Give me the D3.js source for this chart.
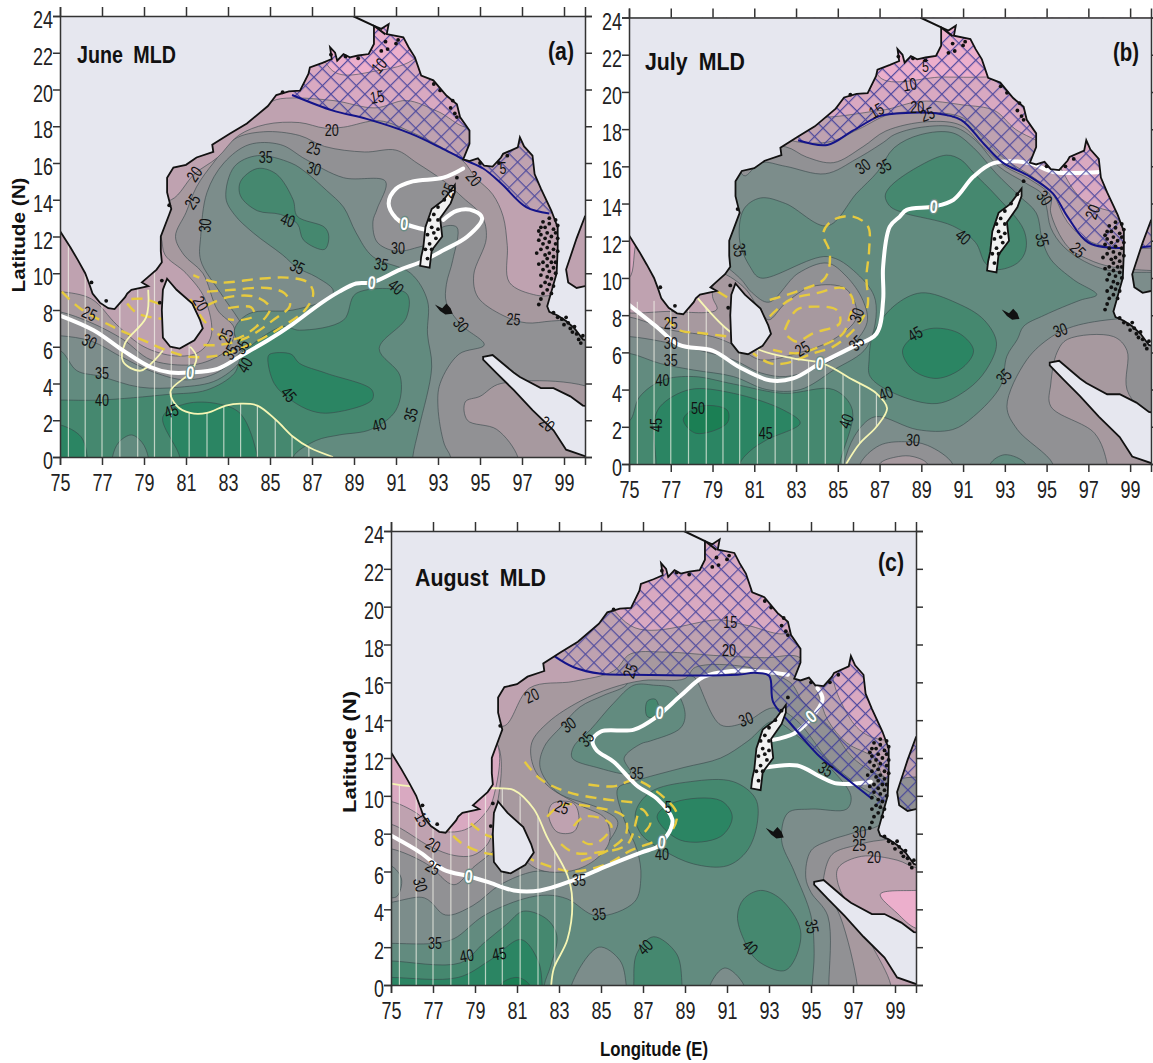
<!DOCTYPE html>
<html>
<head>
<meta charset="utf-8">
<script src="https://cdn.jsdelivr.net/npm/d3@7"></script>
<style>
body { margin: 0; background: #fff; }
svg { display: block; }
text { font-family: "Liberation Sans", sans-serif; }
</style>
</head>
<body>
<svg width="1153" height="1063"></svg>
<script>
// tick labels
var lonTicks = [75,77,79,81,83,85,87,89,91,93,95,97,99];
var latTicks = [0,2,4,6,8,10,12,14,16,18,20,22,24];

// colour of each MLD band, keyed on the lower bound (m)
var bandColors = {0:"#ecafcc",10:"#d9a9c1",15:"#bfa2b0",20:"#a7999f",25:"#919194",30:"#7c8d8b",35:"#628b7f",40:"#45886f",45:"#2b8563",50:"#1b7f54"};

// land outlines, lon/lat
var mainLand = [[74,12.6],[75,12.3],[75.5,11.4],[75.86,10.7],[76.2,10],[76.4,9.4],[76.55,8.9],[76.9,8.4],[77.3,8.1],[77.6,8.05],[78.1,8.7],[78.2,8.9],[78.4,9.1],[79,9.25],[79.2,9.3],[78.9,9.5],[79.2,9.8],[79.6,10.2],[79.85,10.6],[79.8,11.2],[79.8,12],[80.2,13.2],[80.3,13.5],[80.1,14.4],[80.1,15.2],[80.4,15.75],[81,15.9],[81.5,16.3],[82.3,16.6],[82.25,17],[83.1,17.6],[83.9,18.15],[84.9,19.1],[85.3,19.7],[85.9,19.9],[86.43,19.94],[86.83,20.85],[86.9,21.2],[87.5,21.45],[87.94,21.66],[87.86,22.3],[88.1,22],[88.2,21.57],[88.5,21.93],[88.8,21.75],[89.2,21.85],[89.7,21.93],[89.95,22.48],[89.95,23.47],[90.3,23.3],[90.65,23.56],[90.56,23.02],[91.35,22.84],[91.6,22.3],[91.9,21.75],[92.2,20.76],[92.78,20.5],[93.4,19.67],[93.9,19.2],[94.05,18.5],[94.5,17.77],[94.5,17.04],[94.2,16.2],[94.5,16.1],[94.9,16.25],[95.2,15.85],[95.6,15.8],[96,16.3],[96.1,16.5],[96.8,16.85],[96.9,17.4],[97.1,16.9],[97.5,16.4],[97.6,15.4],[97.9,14.6],[98.4,13.4],[98.7,12.5],[98.7,11.4],[98.65,10],[98.4,9],[98.2,8.2],[98.3,7.9],[98.7,7.7],[99.1,7.4],[99.5,7],[99.9,6.4],[101,6],[101,25],[74,25]];
var gulfThailand = [[100.5,13.1],[100,13.1],[99.6,11.9],[99.1,10.2],[99.2,9.5],[99.6,9.2],[100,9.3],[100.5,9.3]];
var sriLanka = [[80.1,9.7],[80.55,9.1],[81.3,8.35],[81.67,7.45],[81.8,7],[81.4,6.35],[80.7,5.9],[80.25,6],[79.9,6.5],[79.85,8],[79.9,9.1]];
var sumatra = [[95.15,5.45],[95.6,5.55],[96.6,4.6],[96.9,4.35],[97.9,3.75],[98.5,3.75],[99.3,3.3],[99.9,2.8],[101,2.6],[101,-1],[100.5,-0.2],[100,0.05],[99.1,0.4],[98.5,1.45],[97.5,2.55],[96.6,3.65],[95.8,4.55],[95.15,5.3]];
var andaman = [[93.8,14.8],[93.25,13.97],[92.7,13.5],[92.4,12.5],[92.3,11.4],[92.2,10.9],[92.15,10.4],[92.6,10.3],[92.7,11.25],[93.2,12],[93.1,13],[93.6,13.8],[93.8,14.4]];
var nicobar = [[93.2,8.1],[93.4,8.35],[93.6,8.1],[93.7,7.8],[93.35,7.75],[93.1,7.95],[92.85,8.3]];
var riverLine = [[88.95,24],[89.95,23.47],[90.5,23]];
var andamanSpecks = [[93.6,14.5],[93.3,14],[93,13.6],[92.8,13.2],[92.6,12.9],[93,12.9],[92.7,12.5],[93,12.4],[92.5,12.1],[92.9,11.9],[92.6,11.6],[92.4,11.3],[92.7,11.3],[92.5,10.8],[92.8,12.2],[93.9,15.2]];
var coastSpecks = [[79.85,9.6],[79.75,8.4],[80.2,13.7],[85.6,19.85],[76.5,9.5],[77.2,8.5],[90.3,22.1],[90.6,22.2],[90.5,22.6],[91,22.5],[91.1,22.7],[92.8,20.3],[93.1,19.95],[93.7,19.4],[93.8,18.7],[93.6,19],[93.9,18.5],[87.9,21.9],[88.6,21.8],[89.2,21.7],[95,16],[95.9,16],[96.3,16.4]];
var merguiSpecks = [[98.3,13],[98.6,12.9],[98,12.8],[98.3,12.7],[98.7,12.6],[97.9,12.5],[98.1,12.5],[98.5,12.4],[97.8,12.3],[98.2,12.2],[98.6,12.2],[97.9,12.1],[98.4,12],[98.1,11.9],[98.7,11.9],[97.8,11.8],[98.3,11.7],[98.6,11.6],[98,11.6],[98.2,11.4],[98.5,11.3],[97.9,11.3],[98.7,11.2],[98.3,11.1],[98.1,11],[98.5,10.9],[97.7,11.1],[98.2,10.8],[98,10.6],[98.4,10.6],[98.6,10.6],[97.8,10.5],[98.2,10.4],[98.5,10.3],[98,10.2],[98.3,10.1],[98.6,10],[97.9,9.9],[98.2,9.8],[98.4,9.7],[98.1,9.5],[98.3,9.4],[98.5,9.3],[97.9,9.3],[98.2,9.1],[98,8.9],[98.4,8.9],[97.9,8.6],[97.8,8.3],[98.5,7.85],[98.7,7.6],[98.9,7.5],[99,7.2],[99.2,7.3],[99.3,7],[99.5,7.1],[99.4,6.8],[99.6,6.7],[99.7,6.4],[99.9,6.6],[99.8,6.2],[99.1,7.6]];

// June
var juneBands = [
 [25,[[74,6.6],[75,6.6],[76.5,6.3],[78,5.4],[79.5,4.6],[81,4.2],[82.5,4.6],[83.5,5.6],[84,6.5],[83.5,7.5],[82.6,9],[81.7,10.7],[81.7,12],[82,14.4],[82.8,16],[84,17],[85.5,17],[86.7,16.2],[88.5,15.2],[90.5,15],[90.1,13.5],[89.9,12.8],[90.1,11.7],[91,11.2],[92,11.4],[92.7,11.7],[93.2,12.5],[93.9,12.5],[93.7,10.7],[93.4,9.4],[93.4,8.4],[94.1,7.2],[95.2,6.1],[94,5.6],[93.1,4],[93,2.7],[93.3,0.7],[93.6,0],[93.6,-1],[101,-1],[101,25],[74,25]]],
 [20,[[74,8],[75,7.9],[76.5,7.3],[78,6.4],[79.3,5.3],[81,5],[82,5.2],[83,5.9],[83.3,7],[82.5,8],[81.8,10],[80.9,11],[80.5,12],[81,13.3],[81.5,14.7],[82.3,16],[83.3,17.3],[84.7,17.7],[86.4,17.5],[87.6,16.9],[89.5,16.6],[91,16.7],[92,16],[93.3,15],[94.2,14.1],[95.1,13.1],[95.3,11.9],[94.7,9.9],[94.9,8.7],[96.1,7.7],[97.2,7.3],[98.4,7.4],[100,7.5],[101,7.5],[101,25],[74,25]]],
 [20,[[95,3.3],[94.3,3],[94.4,2],[95.8,1.5],[96.8,0],[96.8,-1],[101,-1],[101,3.3],[96,4]]],
 [15,[[74,9],[75,9],[76.5,8.6],[77.7,7.2],[79,6],[80.5,5.5],[81.6,5.7],[82.2,6.6],[81.9,8.6],[81,10],[80,11],[79.8,12],[79,14],[74,14]]],
 [15,[[79,14],[80.3,14],[81.4,15.4],[82.5,16.3],[83.5,17.5],[84.8,18.1],[86.4,18.2],[87.6,17.9],[88.5,17.95],[90.2,18.3],[91.7,17.7],[93.1,16.9],[94.2,16.1],[94.8,15.2],[95.6,14.3],[96.1,13.1],[96.3,11.5],[96.4,9.5],[97.7,8.8],[98.5,8.8],[100,9],[101,9],[101,25],[79,25]]],
 [10,[[84,19],[85.5,19.5],[88,19.4],[90,19],[91.5,19.4],[93,18.8],[94.5,18],[95,25],[80,25]]],
 [0,[[88,21],[90,21],[92,21.8],[93,25],[87,25]]],
 [35,[[82.9,14.1],[83.3,15.8],[84.4,16.4],[86,16],[86.7,15.5],[87.7,14.5],[88.5,13.6],[89.1,12.2],[89.9,10.9],[91.7,10],[92.5,8.5],[92.5,6.7],[92.7,4.9],[92.1,1.6],[91.8,0],[91.8,-1],[74,-1],[74,5.8],[75,5.8],[75.8,4.7],[76.9,4.4],[78.8,3.8],[80.7,3.8],[82.5,4.2],[83.7,5.5],[83.3,6.9],[84,7.8],[86.1,8],[87.9,8.7],[88,9.1],[87.2,9.8],[86.3,10.3],[85.6,11],[84.2,12.2],[83.3,13.2]]],
 [40,[[83.6,15],[84.4,15.7],[85.3,15.4],[86.1,14],[86.3,13.1],[87.6,12.5],[87.8,12],[87.6,11.3],[86.6,11.8],[86.3,12.7],[85.5,13.2],[84.4,13.4],[83.6,14.2]]],
 [40,[[74,3.1],[75,3.1],[76.9,3.1],[80.1,3.4],[82,3.65],[83.3,4.55],[83.7,5.6],[85.6,7.1],[86.4,6.9],[88.5,7.45],[89.1,8.9],[91.5,8.9],[91.5,7.6],[90.2,5.9],[91.2,4.4],[91,2.55],[89.8,1.5],[88.3,1.2],[87.2,0.9],[86.1,0],[86.1,-1],[74,-1]]],
 [35,[[77.5,-1],[77.5,0],[77.8,0.8],[78.4,1.2],[78.9,0.8],[79.2,0],[79.2,-1]]],
 [45,[[84.9,5.4],[85,5.6],[86,5.6],[86.4,5.1],[87.7,4.55],[89.85,3.65],[89.85,3.1],[87.9,2.4],[87,2.5],[86,3.1],[85.2,4]]],
 [45,[[79.9,2.2],[81,2.9],[82.5,2.9],[83.6,2.35],[84.4,0],[84.4,-1],[80.7,-1],[80.7,0]]],
 [45,[[74,1.75],[75,1.75],[76,1.1],[76.3,0],[76.3,-1],[74,-1]]]
];
var juneBlue = [[86.05,19.7],[88,18.85],[89.6,18.4],[91.7,17.6],[93.1,16.85],[94.2,16.2],[95.15,15.7],[96,14.9],[97.2,13.6],[98.3,13.25]];
var juneHatch = [[100.5,13.25],[100.5,25],[86.05,25]];
var juneWhite = [
 [[75,7.7],[76.6,6.9],[78,5.8],[79.3,4.9],[80.25,4.6],[81.2,4.6],[82.5,4.8],[83.6,5.5],[84.9,6.35],[86.1,7.25],[87.4,8.35],[88.3,9],[89.1,9.44],[89.85,9.5],[91.2,10.2],[92.15,10.6],[93.25,11.25],[94.4,12],[95.1,13],[94.7,13.4],[93.9,13.4],[93.25,12.9]],
 [[94.2,15.7],[93.25,15.2],[91.8,15],[91,14.6],[90.65,13.8],[91,13],[91.4,12.7],[92.46,12.35]]
];
var juneYellow = [
 [[88,0],[86.9,0.5],[86.1,1.1],[85.3,2],[84.4,2.8],[83.6,2.9],[82.9,2.8],[82,2.4],[81.2,2.4],[80.55,2.8],[80.27,3.6],[81.2,4.6],[81.5,5.45],[81.2,6]],
 [[79.2,9.1],[79.1,7.6],[78.1,6.2],[78,5.2],[78.85,4.7],[79.9,5.8]]
];
var juneDashes = [
 [[75.08,9],[75.95,8.1],[77.5,7.1],[78.97,6.35],[80.1,5.8],[81.2,5.45],[82.65,5.55],[84.2,6.2],[85.8,7.25],[86.67,8],[87.06,8.9],[86.8,9.5],[85.8,9.76],[84.5,9.7],[82.46,9.5],[81.35,9.9]],
 [[78.4,8.6],[79,8.6],[79.8,8.3]],
 [[78.2,8.35],[78.7,7.8],[80,7.5]],
 [[81.2,8.6],[81.8,7.5],[82.3,6.9]],
 [[82,9],[83.25,9.1],[84.85,9.2],[85.7,8.9],[85.95,8.25],[85.15,7.45],[83.9,6.5],[82.6,6.1],[81.8,6.1]],
 [[82,8.25],[83,8.7],[84.35,8.7],[85,8.1],[84.35,7.1],[83.25,6.4],[82.5,6.7]],
 [[83,8.1],[84.1,8.15],[84.25,7.7],[83.6,7.45],[83,7.5]]
];
var juneStripeArea = [[75,13],[79.3,13],[81.2,6],[81.5,5.45],[81.2,4.6],[80.27,3.6],[80.55,2.8],[81.2,2.4],[82,2.4],[82.9,2.8],[83.6,2.9],[84.4,2.8],[85.3,2],[86.1,1.1],[86.9,0.5],[88,0],[75,0]];
var juneLabels = [["20",81.4,15.4,-55],["25",81.3,13.9,-55],["30",81.9,12.6,-85],["35",84.8,16.3,0],["20",87.94,17.8,0],["25",87.1,16.8,15],["30",87.1,15.7,15],["40",85.85,12.9,20],["35",86.3,10.35,25],["25",76.4,7.8,25],["30",76.4,6.3,25],["35",77,4.55,0],["40",77,3.1,0],["45",80.3,2.5,-20],["20",81.7,8.35,60],["25",82.9,6.6,-70],["35",83.1,5.7,-60],["35",83.65,6,-60],["40",83.8,5,-60],["45",85.9,3.4,50],["10",90.2,21.3,-50],["15",90.1,19.6,-10],["5",96.1,15.7,0],["20",94.7,15.15,50],["30",91.1,11.35,0],["35",90.3,10.5,10],["40",91,9.25,40],["30",94.1,7.2,50],["25",96.6,7.5,5],["35",91.7,2.3,-75],["40",90.2,1.75,-15],["20",98.2,1.8,40],["25",93.5,14.5,-70]];
var juneZeros = [[89.85,9.5,5],[81.2,4.6,5],[91.4,12.7,5]];

// July
var julyBands = [
 [30,[[74,5.95],[75,5.95],[76.5,5.4],[78.1,5.05],[80,4.7],[81.6,4],[83.2,4],[84.8,5.05],[86.4,6.3],[86.8,8.8],[85.9,10.25],[84.5,11.15],[81.3,10],[80.8,10.6],[80.3,12],[80.5,13.7],[81.3,14.3],[82.5,14],[84.5,12.8],[85.9,14.55],[86.9,15.7],[87.7,17],[88.95,17.7],[90.5,17.8],[91.5,17],[92.6,15.6],[93.7,14.4],[94.5,13.5],[94.8,12],[95.2,11],[96.3,9.9],[97.4,9.1],[96.6,8.8],[94.9,8],[93.9,7.4],[93.6,6.7],[93.1,5.8],[92.8,4.2],[91.5,2.55],[90.5,1.85],[88.8,1.85],[87,2.55],[86.5,2.4],[85.8,1.5],[85.3,0],[85.3,-1],[101,-1],[101,25],[74,25]]],
 [25,[[74,6.85],[75,6.85],[76.5,6.6],[78.4,6.1],[80,5.6],[81.3,4.9],[82.5,4.7],[83.8,5.1],[85.4,6.1],[86.4,7.6],[86.2,8.8],[85.4,10.1],[84.5,10.8],[83.1,10.25],[81.7,8.7],[80.9,9.2],[80.3,10],[79,11],[74,12]]],
 [25,[[80.5,15.5],[81.3,16.2],[82.5,16],[84.4,15.6],[85.9,16.4],[87.2,17.3],[87.7,17.7],[89,18.1],[90.6,18.1],[91.6,17.4],[92.7,16],[94,15.1],[94.8,14.5],[95,13.8],[95.2,12.7],[95.8,11.7],[96.8,10.9],[98,10.4],[100,10.3],[101,10.3],[101,25],[80,25]]],
 [25,[[98.4,7.8],[96.3,7.4],[95.25,6.85],[94.05,5.6],[93.1,3.1],[93.6,1.85],[95.3,0],[95.3,-1],[101,-1],[101,7.8]]],
 [25,[[86.07,-1],[86.07,0],[87,1],[88.2,1.2],[89.3,1],[90.5,0],[90.5,-1]]],
 [20,[[87,-1],[87,0],[87.9,0.4],[88.6,0.4],[89.3,0],[89.3,-1]]],
 [35,[[92.3,-1],[92.3,0],[93,0.5],[94,0],[94,-1]]],
 [20,[[74,7.9],[75,7.9],[77,7.2],[79,6.85],[80.2,6.3],[81.3,5.6],[83.2,6],[84.8,6.7],[85.9,7.9],[85.4,9.4],[83.8,9.55],[82.5,8.65],[81.7,7.75],[81.3,8.2],[80.5,9.5],[79,10.5],[74,11.5]]],
 [20,[[79,19],[80,17.05],[82.5,17.05],[83.5,16.5],[84.8,16.2],[86.2,17.05],[87.3,17.9],[89.3,18.4],[90.9,18.2],[92,17],[93,16],[94.2,15.3],[95.2,14.4],[95.2,13.5],[96,11.7],[97,11],[98.1,10.6],[100,10.4],[101,10.4],[101,25],[79,25]]],
 [20,[[95.5,6],[96,6.7],[98.2,6.85],[98.85,6.1],[98.85,4],[100,2],[100,0],[101,-1],[97.9,-1],[97.9,0],[97.3,1.65],[95.2,3.1],[95.2,4.3]]],
 [15,[[74,8.5],[77,8.2],[79.2,8.3],[79,9],[79,12.5],[74,13]]],
 [15,[[81,19],[82.5,17.5],[84.5,17.3],[86,18],[87.5,18.8],[89.5,18.9],[91,18.6],[92,17.5],[93,16.4],[94.5,15.3],[95.3,14.5],[96,13],[97,12],[98.5,11.6],[100,11.6],[101,11.6],[101,25],[80,25]]],
 [10,[[74,10],[75,10],[75.4,12],[76,12.5],[76,13],[74,13]]],
 [10,[[83,19],[87,19],[89,19.5],[91,19.3],[92.5,19],[93.5,18],[95,17],[97,14],[101,14],[101,25],[85,25]]],
 [0,[[87,20.8],[90,20.8],[92,20.8],[94,21],[94,25],[87,25]]],
 [40,[[74,2.3],[75,2.3],[75.5,3.6],[76.6,4.5],[78.1,4.7],[80,4.3],[82.4,3.8],[84.8,4],[85.7,2.9],[85.1,0],[85.1,-1],[74,-1]]],
 [45,[[76.3,-1],[76.3,0],[76.2,2.2],[76.5,3.1],[77.9,4],[80,3.8],[82.4,2.9],[83.2,2.2],[81.6,1.3],[80.8,0.7],[80.3,0],[80.3,-1]]],
 [50,[[77.6,2.4],[78.4,3.1],[79.7,2.9],[79.7,2.2],[78.2,1.65]]],
 [40,[[87.27,14.4],[87.5,14.9],[88.8,15.95],[90.2,16.6],[90.9,16.35],[91.5,15.65],[92.6,14.4],[93.9,12.6],[94,11.5],[93.6,10.8],[92.6,10.45],[92.06,10.8],[91.6,11.9],[90.5,12.8],[88.15,13.5],[87.5,13.85]]],
 [40,[[86.7,7],[87.7,8.5],[89,9.2],[90.7,8.65],[92,7.75],[92.6,6.5],[92.1,5.05],[91.2,4],[89.75,3.25],[87.7,3.8],[86.55,4.7],[86.5,5.6]]],
 [45,[[88.1,6.1],[88.8,7],[89.6,7.3],[90.85,7],[91.5,6.1],[91,5.2],[89.75,4.6],[88.6,5.05]]]
];
var julyBlue = [[83.1,17.4],[84.5,17.15],[85.7,17.9],[87,18.7],[88,18.85],[89.7,18.85],[90.9,18.5],[92,17.2],[92.9,16.2],[94.2,15.45],[95.3,14.55],[96,13.3],[97,11.9],[98.7,11.6],[100,11.7]];
var julyHatch = [[100.5,11.7],[100.5,25],[83.1,25]];
var julyWhite = [
 [[75,8.55],[76.3,7.4],[77.4,6.4],[79,6.1],[80.3,5.2],[81.74,4.5],[82.86,4.6],[84.14,5.4],[85.73,6.31],[86.85,7],[87.17,8.8],[87.17,10.6],[87.49,12.76],[87.97,13.3],[88.3,13.66],[89.6,13.84],[90.54,14.2],[91.5,15.45],[92.46,16.17],[94.2,16.17],[95.33,15.7],[97.57,15.7]]
];
var julyYellow = [
 [[78.3,8.9],[79.74,7.2],[81.26,6.13],[82.86,5.68],[84.3,5.4],[85.73,4.52],[86.85,3.8],[87.36,3],[86.85,2],[86.05,1.1],[85.4,0]]
];
var julyDashes = [
 [[81.74,8.82],[83.02,9.27],[84.38,9.99],[84.62,11.33],[84.3,12.4],[84.78,13.12],[85.73,13.3],[86.45,12.76],[86.5,11.5],[86.37,10.07],[86.42,8.46],[85.9,7.39],[84.78,6.31],[83.82,5.95],[82.54,5.42],[81.74,5.42],[80.94,5.95]],
 [[81.74,7.93],[82.7,8.82],[83.98,9.18],[85.26,9.45],[85.73,8.82],[85.57,7.93],[85.26,7.03],[84.14,6.31],[83.02,5.95],[81.9,6.13]],
 [[82.46,7.21],[83.02,8.28],[83.98,8.46],[84.94,8.28],[85.1,7.57],[83.82,7.03],[83.02,6.58],[82.46,7.03]],
 [[76.8,7.85],[77.4,7.2],[78.5,7.03],[79.75,6.85]],
 [[79.25,9.27],[79.8,8.9]]
];
var julyStripeArea = [[75,8.7],[78.3,8.9],[79.74,7.2],[81.26,6.13],[82.86,5.68],[84.3,5.4],[85.73,4.52],[86.85,3.8],[87.36,3],[86.85,2],[86.05,1.1],[85.4,0],[75,0]];
var julyLabels = [["35",80.3,11.5,85],["15",86.85,19,-30],["30",86.2,16,-35],["35",87.2,16,-30],["30",85.9,8,-70],["25",77,7.6,0],["30",77,6.5,0],["35",77,5.6,0],["40",76.6,4.5,0],["45",76.3,2.1,-90],["50",78.3,3,0],["45",81.55,1.65,0],["40",85.4,2.3,-70],["40",87.3,3.8,-20],["25",83.3,6.2,-30],["35",85.9,6.5,-45],["10",88.45,20.4,-10],["20",88.8,19.2,0],["25",89.3,18.8,-20],["40",91,12.2,40],["30",94.9,14.3,55],["35",94.8,12.05,80],["20",97.2,13.55,-70],["25",96.5,11.5,45],["45",88.7,7,-30],["30",95.65,7.2,-20],["35",92.95,4.7,-45],["30",88.6,1.3,5],["5",89.2,21.4,0]];
var julyZeros = [[84.14,5.4,5],[89.6,13.84,5]];

// August
var augustBands = [
 [30,[[74,2.2],[75,2.2],[77,2.2],[78,2.45],[79.4,3.65],[81.3,4.55],[82.45,4.75],[83.4,4.55],[84.8,3.65],[86.6,4.4],[86.9,5.7],[86.73,7.1],[86.1,8.75],[85.8,10.4],[86.57,10.75],[86.95,10.9],[88.95,11.5],[90.7,12],[92,12.9],[93.2,13.95],[94.2,13.3],[95.6,11.85],[96.9,10],[96.7,9.3],[95,9.3],[93.9,9.1],[93.6,7.65],[94.2,6],[95,3.65],[95.15,1.65],[95.06,0],[95.06,-1],[101,-1],[101,25],[74,25]]],
 [35,[[83.63,12],[83.7,12.6],[84.5,13.5],[85.6,14.9],[86.57,15.85],[87.5,15.85],[88.45,15.65],[89,14.4],[88.8,13.6],[87.35,12.9],[86.9,12.75],[86.1,12],[86.4,11.2],[84.8,11.5]]],
 [25,[[74,4.6],[76.6,4.6],[77.6,3.7],[78.9,4.2],[80.2,5.3],[81.8,6],[83,6],[84.3,6.4],[85.8,8.6],[85,9.3],[82.9,10.2],[82.1,11.5],[82.3,12.6],[83.1,13.65],[84,14.7],[85.1,15.3],[86.2,15.85],[86.4,16.4],[89.4,16.3],[89.6,16],[90.7,13.75],[91.8,13.85],[93.2,14.65],[94.3,14],[95.9,11.8],[97.2,10.6],[98.2,9.8],[98.4,8.6],[96.9,8],[95.9,7.65],[95,7.1],[94.75,5.7],[95,4.9],[95.8,3.65],[95.85,0],[95.85,-1],[101,-1],[101,25],[74,25]]],
 [30,[[74,6.3],[75,6.3],[75.5,5.6],[75.3,4.7],[75,4.6],[74,4.6]]],
 [20,[[74,7.2],[75,7.2],[76.7,6.4],[78,5.3],[78.9,6.2],[80,7.3],[80.5,9],[79,12],[74,12]]],
 [20,[[81.7,6.3],[83.4,6],[84.7,6.6],[85.4,7.6],[85.2,8.8],[84,9.5],[82.5,10.5],[81.8,11.5],[81.7,12.8],[82.5,13.9],[84,15],[85.5,15.7],[87,16.1],[89,16.2],[89.5,16.8],[92,16.8],[94,16],[94.6,15],[96,13.5],[97,12],[98.5,11],[100,11],[101,11],[101,25],[80,25],[80,10]]],
 [20,[[95.6,5.3],[95.6,5.65],[96,6.9],[97.2,7.4],[98.3,7.65],[101,7.65],[101,-1],[97.2,-1],[97.2,0],[96.4,3.6]]],
 [15,[[74,8.5],[75,8.5],[76.9,7.3],[78,6.85],[78.9,6.85],[79.6,7.45],[79.9,8.55],[79.9,13],[74,13]]],
 [15,[[82.5,9],[82.7,9.6],[83.7,9.6],[83.95,8.75],[83.7,8.1],[82.9,8.1]]],
 [15,[[79.5,14],[80.4,13.7],[81.6,15.7],[83.7,16.05],[85.6,16.6],[86.4,17.5],[88,17.6],[90.7,17.4],[92.8,17.3],[94.5,17.3],[95.3,15.5],[95.8,14],[96.7,12.8],[98,12],[98.5,11],[100,11],[101,11],[101,25],[79.5,25]]],
 [15,[[96.3,5.3],[96.3,6.2],[97.4,6.8],[99.1,6.6],[100,6.2],[101,6.2],[101,-1],[98.8,-1],[98.8,0],[97.85,2.2]]],
 [10,[[74,9.7],[75,9.7],[76.2,9.1],[77.2,8.2],[78.5,8.2],[79.5,9.1],[79.9,10],[79.9,13],[74,13]]],
 [10,[[86.4,19],[90.7,19.3],[92,19],[94,18.7],[94,25],[84,25]]],
 [10,[[96,16.5],[96.5,14.8],[97.3,13.5],[98.2,13],[100,13],[101,13],[101,25],[96,25]]],
 [0,[[98.3,4.8],[100,5],[101,5],[101,3],[100,3],[99.1,3.8]]],
 [40,[[87.2,15],[87.6,15.1],[87.75,14.2],[87.2,14.2]]],
 [40,[[86.64,9.1],[87.35,10.2],[89.26,10.75],[91.3,10.75],[92.36,9.85],[92.44,8.55],[91.96,7.1],[91,6.3],[89.4,6.4],[88,7.1],[86.9,8]]],
 [45,[[87.67,8.9],[88.47,9.65],[90.7,9.75],[91.25,8.9],[90.7,7.85],[88.8,7.65]]],
 [40,[[91.5,3.65],[91.8,4.55],[92.6,5],[93.55,4.55],[94.5,2.9],[94.2,1.3],[93.7,0.75],[92.44,1.3],[91.8,2.4]]],
 [40,[[86.56,-1],[86.56,0],[86.7,1.65],[87.5,2.55],[88.6,1.65],[88.86,0],[88.86,-1]]],
 [30,[[83.6,-1],[83.6,0],[84.9,2],[85.9,1.3],[86.2,0],[86.2,-1]]],
 [30,[[90.2,-1],[90.2,0],[90.9,0.9],[91.8,0],[91.8,-1]]],
 [40,[[74,1.27],[75,1.27],[78.3,1.17],[79.4,2.2],[80.5,3.2],[81.3,3.9],[82.4,3.5],[82.9,2.6],[82.6,1],[82.3,0],[82.3,-1],[74,-1]]],
 [45,[[74,0.4],[75,0.4],[78.2,0.4],[79.7,1.3],[81.2,2.4],[82,1.3],[82.2,0],[82.2,-1],[74,-1]]],
 [50,[[80.2,-1],[80.2,0],[81,0.4],[81.6,0],[81.6,-1]]]
];
var augustBlue = [[82.76,17.4],[83.7,16.8],[85,16.45],[86.4,16.4],[91.5,16.4],[92.3,16.5],[93,16.35],[93.2,14.95],[94,13.85],[95.3,12.2],[96.7,10.9],[97.9,9.85]];
var augustHatch = [[98.5,9],[100.5,9],[100.5,25],[82.76,25]];
var augustWhite = [
 [[75,7.9],[76.4,7],[77.5,6.1],[78.7,5.75],[79.6,5.45],[80.85,5],[82.1,5],[83.7,5.55],[85.3,6.3],[86.9,7],[87.67,7.3],[87.9,7.55],[88.3,8.2],[88.4,8.75],[87.67,9.85],[86.7,10.55],[85.6,11.8],[84.8,12.4],[84.6,12.9],[85,13.4],[86.57,13.5],[87.67,14.2],[88.8,15.3],[89.9,16.3],[91.2,16.6],[92.3,16.6],[93.9,16.4]],
 [[93.15,12.95],[94.2,13.3],[95,14.1],[95.55,15.1],[95.3,15.7]],
 [[92.84,11.5],[94.35,11.6],[95.46,11],[96.25,10.65],[97.85,10.75]]
];
var augustYellow = [
 [[75,10.65],[76,10.5],[80,10.4],[80.85,10.3],[81.8,9.3],[82.44,7.8],[83.4,5.8],[83.63,4.55],[83.4,2.4],[82.76,0.9],[82.63,0]]
];
var augustDashes = [
 [[81.37,11.8],[82.1,10.9],[83.4,10.2],[85,9.85],[86.57,9.65]],
 [[84.4,10.6],[85.6,10.5],[86.57,10.85],[86.9,10.75],[87.8,10.1],[88.6,9.1],[88.4,8.2],[87.67,7.65],[86.4,7.1],[85.3,6.4],[83.7,6],[82.76,6.2],[81.65,6.65]],
 [[82.44,8.9],[83.1,9.5],[84.67,9.4],[86.1,8.9],[86.2,8],[85.3,7.1],[84,6.55]],
 [[83.7,8.4],[84.2,8.9],[85.15,8.75],[85.5,8.4],[85,7.65],[84.4,7.45],[83.9,7.8]],
 [[83.1,7.45],[83.7,7],[84.8,7],[86.26,7.45],[86.9,9.3],[87.35,8.55],[86.8,7.8]],
 [[76.16,11.1],[76.9,10],[77.5,8.55],[78.3,7.55],[79.4,7],[81.17,6.8]],
 [[78.8,8.55],[79.6,7.9],[80.9,7.65]]
];
var augustStripeArea = [[75,10.65],[76,10.5],[80,10.4],[80.85,10.3],[81.8,9.3],[82.44,7.8],[83.4,5.8],[83.63,4.55],[83.4,2.4],[82.76,0.9],[82.63,0],[75,0]];
var augustLabels = [["20",81.7,15.3,-25],["30",83.45,13.75,-35],["35",84.3,13,-50],["15",76.5,8.75,60],["20",77,7.4,30],["25",77,6.2,30],["30",76.4,5.3,75],["35",77.1,2.2,0],["40",78.6,1.55,-10],["45",80.15,1.65,-10],["25",83.15,9.4,20],["35",84.9,3.75,-5],["35",86.7,11.2,0],["25",86.4,16.6,-70],["35",83.95,5.55,0],["15",91.15,19.2,0],["20",91.1,17.7,0],["30",91.9,14.05,-20],["35",95.7,11.4,30],["5",88.2,9.4,0],["40",87.9,6.9,0],["30",97.3,8.1,0],["25",97.3,7.4,0],["20",98,6.75,0],["35",95.05,3.1,80],["40",92.1,2,45],["40",87.1,2,-45]];
var augustZeros = [[78.7,5.75,5],[87.9,7.55,5],[87.8,14.4,5],[95,14.2,-40]];

// white stipple lines, lon
var stripeLons = [75.4,76.2,77,77.85,78.7,79.5,80.3,81.15,82,82.8,83.6,84.4,85.25,86.05,86.85];

var panels = [
 {id:"a", title:"June MLD", tag:"(a)", left:60, right:585, top:16, bottom:457, base:30, bands:juneBands, blue:juneBlue, hatch:juneHatch, white:juneWhite, yellow:juneYellow, dashes:juneDashes, stripes:juneStripeArea, labels:juneLabels, zeros:juneZeros, titleX:77, titleY:63, titleW:99, tagX:548, tagY:60},
 {id:"b", title:"July MLD", tag:"(b)", left:629, right:1151, top:17.5, bottom:464, base:35, bands:julyBands, blue:julyBlue, hatch:julyHatch, white:julyWhite, yellow:julyYellow, dashes:julyDashes, stripes:julyStripeArea, labels:julyLabels, zeros:julyZeros, titleX:645, titleY:70, titleW:100, tagX:1113, tagY:61},
 {id:"c", title:"August MLD", tag:"(c)", left:391, right:916, top:531, bottom:985, base:35, bands:augustBands, blue:augustBlue, hatch:augustHatch, white:augustWhite, yellow:augustYellow, dashes:augustDashes, stripes:augustStripeArea, labels:augustLabels, zeros:augustZeros, titleX:415, titleY:586, titleW:131, tagX:878, tagY:571}
];

var svg = d3.select("svg");
var defs = svg.append("defs");

var hatch = defs.append("pattern")
  .attr("id", "crosshatch")
  .attr("patternUnits", "userSpaceOnUse")
  .attr("width", 12).attr("height", 12)
  .attr("patternTransform", "rotate(45)");
hatch.append("path")
  .attr("d", "M0 0H12M0 0V12")
  .attr("stroke", "#3d3d9b")
  .attr("stroke-width", 2.4)
  .attr("fill", "none");

// squeeze a label to the narrow face used in the figure
var narrow = function(sel, perChar)
{
  sel.attr("textLength", function(){return this.textContent.length * perChar;})
     .attr("lengthAdjust", "spacingAndGlyphs");
};

var drawPanel = function(p)
{
  var x = d3.scaleLinear().domain([75,100]).range([p.left, p.right]);
  var y = d3.scaleLinear().domain([0,24]).range([p.bottom, p.top]);

  var smooth = d3.line().x(function(d){return x(d[0]);}).y(function(d){return y(d[1]);}).curve(d3.curveCatmullRom.alpha(0.5));
  var closed = d3.line().x(function(d){return x(d[0]);}).y(function(d){return y(d[1]);}).curve(d3.curveCatmullRomClosed.alpha(0.5));
  var poly = d3.line().x(function(d){return x(d[0]);}).y(function(d){return y(d[1]);}).curve(d3.curveLinearClosed);
  var open = d3.line().x(function(d){return x(d[0]);}).y(function(d){return y(d[1]);});

  defs.append("clipPath").attr("id", "frame-" + p.id)
    .append("rect")
    .attr("x", p.left).attr("y", p.top)
    .attr("width", p.right - p.left).attr("height", p.bottom - p.top);
  defs.append("clipPath").attr("id", "stripes-" + p.id)
    .append("path").attr("d", poly(p.stripes));

  var g = svg.append("g").attr("clip-path", "url(#frame-" + p.id + ")");

  g.append("rect")
    .attr("x", p.left).attr("y", p.top)
    .attr("width", p.right - p.left).attr("height", p.bottom - p.top)
    .attr("fill", bandColors[p.base]);

  g.selectAll("path.band")
    .data(p.bands)
    .enter()
    .append("path")
    .attr("class", "band")
    .attr("d", function(d){return closed(d[1]);})
    .attr("fill", function(d){return bandColors[d[0]];})
    .attr("stroke", "#37474a")
    .attr("stroke-opacity", 0.75)
    .attr("stroke-width", 0.8);

  g.append("g").attr("clip-path", "url(#stripes-" + p.id + ")")
    .selectAll("line")
    .data(stripeLons)
    .enter()
    .append("line")
    .attr("x1", function(d){return x(d);})
    .attr("x2", function(d){return x(d);})
    .attr("y1", y(24))
    .attr("y2", y(0))
    .attr("stroke", "#f4f4ea")
    .attr("stroke-opacity", 0.7)
    .attr("stroke-width", 1.2);

  g.selectAll("path.dash")
    .data(p.dashes)
    .enter()
    .append("path")
    .attr("class", "dash")
    .attr("d", smooth)
    .attr("fill", "none")
    .attr("stroke", "#e6ca3f")
    .attr("stroke-width", 2.4)
    .attr("stroke-dasharray", "11,7");

  g.selectAll("path.pale")
    .data(p.yellow)
    .enter()
    .append("path")
    .attr("class", "pale")
    .attr("d", smooth)
    .attr("fill", "none")
    .attr("stroke", "#f6f6b4")
    .attr("stroke-width", 1.8);

  g.selectAll("path.zero")
    .data(p.white)
    .enter()
    .append("path")
    .attr("class", "zero")
    .attr("d", smooth)
    .attr("fill", "none")
    .attr("stroke", "#fff")
    .attr("stroke-width", 4)
    .attr("stroke-linecap", "round");

  // hatch area is the blue line closed up over the land
  g.append("path")
    .attr("d", poly(p.blue.concat(p.hatch)))
    .attr("fill", "url(#crosshatch)")
    .attr("fill-opacity", 0.85);
  g.append("path")
    .attr("d", smooth(p.blue))
    .attr("fill", "none")
    .attr("stroke", "#14148a")
    .attr("stroke-width", 2);

  // land sits on top of the field
  var landColor = "#e6e7ef";
  g.append("path")
    .attr("d", poly(mainLand) + poly(gulfThailand))
    .attr("fill-rule", "evenodd")
    .attr("fill", landColor)
    .attr("stroke", "#111")
    .attr("stroke-width", 1.8);
  [sriLanka, sumatra].forEach(function(ring){
    g.append("path")
      .attr("d", poly(ring))
      .attr("fill", landColor)
      .attr("stroke", "#111")
      .attr("stroke-width", 1.8);
  });
  g.append("path")
    .attr("d", poly(andaman))
    .attr("fill", "#f1f1f1")
    .attr("stroke", "#111")
    .attr("stroke-width", 1.8);
  g.append("path")
    .attr("d", poly(nicobar))
    .attr("fill", "#111");
  g.append("path")
    .attr("d", open(riverLine))
    .attr("fill", "none")
    .attr("stroke", "#111")
    .attr("stroke-width", 2);

  g.selectAll("circle.speck")
    .data(merguiSpecks.concat(andamanSpecks, coastSpecks))
    .enter()
    .append("circle")
    .attr("class", "speck")
    .attr("cx", function(d){return x(d[0]);})
    .attr("cy", function(d){return y(d[1]);})
    .attr("r", 1.9)
    .attr("fill", "#111");

  g.selectAll("text.contour")
    .data(p.labels)
    .enter()
    .append("text")
    .attr("class", "contour")
    .attr("transform", function(d){return "translate(" + x(d[1]) + "," + y(d[2]) + ") rotate(" + d[3] + ")";})
    .attr("text-anchor", "middle")
    .attr("dy", "0.35em")
    .attr("font-size", 17)
    .attr("fill", "#111")
    .text(function(d){return d[0];})
    .call(narrow, 7);

  g.selectAll("text.zeroLabel")
    .data(p.zeros)
    .enter()
    .append("text")
    .attr("class", "zeroLabel")
    .attr("transform", function(d){return "translate(" + x(d[0]) + "," + y(d[1]) + ") rotate(" + d[2] + ")";})
    .attr("text-anchor", "middle")
    .attr("dy", "0.35em")
    .attr("font-size", 18)
    .attr("font-weight", "bold")
    .attr("fill", "#fff")
    .attr("stroke", "#6a8b83")
    .attr("stroke-width", 3)
    .attr("paint-order", "stroke")
    .text("0")
    .call(narrow, 8);

  // frame and ticks
  var axes = svg.append("g");
  axes.append("g").attr("transform", "translate(" + p.left + ",0)")
    .call(d3.axisLeft(y).tickValues(latTicks).tickSize(7).tickPadding(0));
  axes.append("g").attr("transform", "translate(0," + p.bottom + ")")
    .call(d3.axisBottom(x).tickValues(lonTicks).tickSize(8).tickPadding(10));
  axes.append("g").attr("transform", "translate(0," + p.top + ")")
    .call(d3.axisTop(x).tickValues(lonTicks).tickSize(9).tickFormat(""));
  axes.append("g").attr("transform", "translate(" + p.right + ",0)")
    .call(d3.axisRight(y).tickValues(latTicks).tickSize(7).tickFormat(""));
  axes.selectAll("path, line").attr("stroke", "#333").attr("stroke-width", 1.5);
  axes.selectAll("text")
    .attr("font-family", "Liberation Sans, sans-serif")
    .attr("font-size", 23)
    .attr("fill", "#222")
    .call(narrow, 10);
  axes.selectAll("g.tick text").filter(function(){return this.getAttribute("dy") === "0.32em";}).attr("dy", "0.5em");

  svg.append("text")
    .attr("x", p.titleX).attr("y", p.titleY)
    .attr("font-size", 24)
    .attr("font-weight", "bold")
    .attr("fill", "#111")
    .attr("word-spacing", 6)
    .attr("textLength", p.titleW)
    .attr("lengthAdjust", "spacingAndGlyphs")
    .text(p.title);
  svg.append("text")
    .attr("x", p.tagX).attr("y", p.tagY)
    .attr("font-size", 25)
    .attr("font-weight", "bold")
    .attr("fill", "#111")
    .attr("textLength", 26)
    .attr("lengthAdjust", "spacingAndGlyphs")
    .text(p.tag);
};

panels.forEach(drawPanel);

svg.append("text")
  .attr("transform", "translate(25,235) rotate(-90)")
  .attr("text-anchor", "middle")
  .attr("font-size", 18).attr("font-weight", "bold").attr("fill", "#111")
  .attr("textLength", 115).attr("lengthAdjust", "spacingAndGlyphs")
  .text("Latitude (N)");
svg.append("text")
  .attr("transform", "translate(356,752) rotate(-90)")
  .attr("text-anchor", "middle")
  .attr("font-size", 19).attr("font-weight", "bold").attr("fill", "#111")
  .attr("textLength", 122).attr("lengthAdjust", "spacingAndGlyphs")
  .text("Latitude (N)");
svg.append("text")
  .attr("x", 654).attr("y", 1056)
  .attr("text-anchor", "middle")
  .attr("font-size", 20).attr("font-weight", "bold").attr("fill", "#111")
  .attr("textLength", 108).attr("lengthAdjust", "spacingAndGlyphs")
  .text("Longitude (E)");
</script>
</body>
</html>
